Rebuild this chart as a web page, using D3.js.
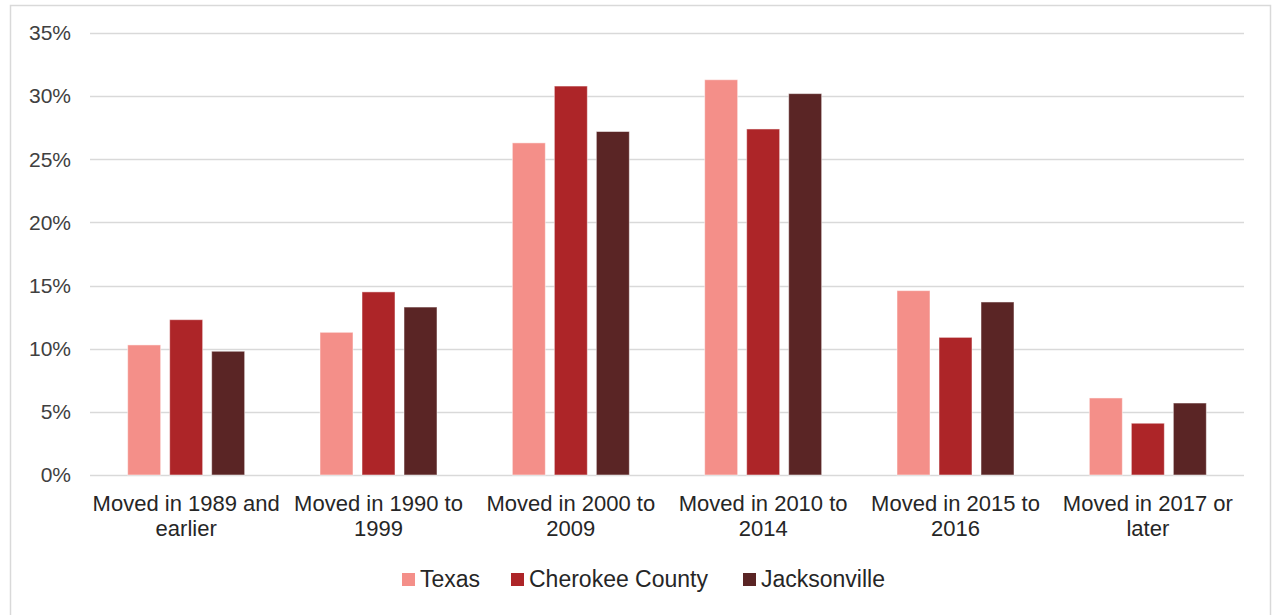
<!DOCTYPE html>
<html>
<head>
<meta charset="utf-8">
<script src="https://cdn.jsdelivr.net/npm/d3@7"></script>
<style>
  html, body { margin: 0; padding: 0; background: #fff; }
  svg { display: block; font-family: "Liberation Sans", Arial, sans-serif; }
</style>
</head>
<body>
<svg id="chart" width="1274" height="615"></svg>
<script>
// Year the householder moved into the unit, share of occupied units
const categories = [
  ["Moved in 1989 and", "earlier"],
  ["Moved in 1990 to", "1999"],
  ["Moved in 2000 to", "2009"],
  ["Moved in 2010 to", "2014"],
  ["Moved in 2015 to", "2016"],
  ["Moved in 2017 or", "later"]
];
const seriesNames = ["Texas", "Cherokee County", "Jacksonville"];
const texas        = [10.3, 11.3, 26.3, 31.3, 14.6, 6.1];
const cherokee     = [12.3, 14.5, 30.8, 27.4, 10.9, 4.1];
const jacksonville = [9.8, 13.3, 27.2, 30.2, 13.7, 5.7];
const yTicks = [0, 5, 10, 15, 20, 25, 30, 35];

const seriesValues = [texas, cherokee, jacksonville];
const colors = ["#F48F89", "#AD2528", "#5A2525"];

const svg = d3.select("#chart");

// outer frame (top, left, right)
svg.append("path")
  .attr("d", "M10.5,615 V5.5 H1270.5 V615")
  .attr("fill", "none")
  .attr("stroke", "#d9d9d9")
  .attr("stroke-width", 1.5);

const plotLeft = 90, plotRight = 1244, plotTop = 33, plotBottom = 475;

const x = d3.scaleBand()
  .domain(d3.range(categories.length))
  .range([plotLeft, plotRight]);

const y = d3.scaleLinear().domain([0, 35]).range([plotBottom, plotTop]);

// gridlines
svg.append("g")
  .selectAll("line")
  .data(yTicks)
  .join("line")
  .attr("x1", plotLeft).attr("x2", plotRight)
  .attr("y1", d => Math.round(y(d)) + 0.5)
  .attr("y2", d => Math.round(y(d)) + 0.5)
  .attr("stroke", "#d9d9d9")
  .attr("stroke-width", 1.5);

// y axis labels
const yAxis = d3.axisLeft(y)
  .tickValues(yTicks)
  .tickFormat(d => d + "%")
  .tickSize(0)
  .tickPadding(0);
const yg = svg.append("g")
  .attr("transform", `translate(${plotLeft - 19},0)`)
  .call(yAxis);
yg.select(".domain").remove();
yg.selectAll("text")
  .attr("font-size", 21)
  .attr("fill", "#404040")
  .attr("font-family", "'Liberation Sans', Arial, sans-serif");

// bars
const barW = 33, barGap = 9;
const groupW = 3 * barW + 2 * barGap;
const inner = d3.scaleBand()
  .domain(d3.range(seriesNames.length))
  .range([0, groupW])
  .paddingInner(barGap / (barW + barGap));

const groups = svg.append("g")
  .selectAll("g")
  .data(categories.map((c, i) => i))
  .join("g")
  .attr("transform", i => `translate(${x(i) + x.bandwidth() / 2 - groupW / 2},0)`);

groups.selectAll("rect")
  .data(i => seriesValues.map((vals, s) => ({ s, v: vals[i] })))
  .join("rect")
  .attr("x", d => inner(d.s))
  .attr("width", inner.bandwidth())
  .attr("y", d => y(d.v))
  .attr("height", d => y(0) - y(d.v))
  .attr("fill", d => colors[d.s])
  .attr("stroke", "rgba(255,255,255,0.5)")
  .attr("stroke-width", 1);

// category labels
const xl = svg.append("g")
  .selectAll("text")
  .data(categories)
  .join("text")
  .attr("x", (d, i) => x(i) + x.bandwidth() / 2)
  .attr("y", 511)
  .attr("text-anchor", "middle")
  .attr("font-size", 22)
  .attr("fill", "#262626");
xl.selectAll("tspan")
  .data(d => d)
  .join("tspan")
  .attr("x", function () { return this.parentNode.getAttribute("x"); })
  .attr("dy", (d, i) => i === 0 ? 0 : 25)
  .text(d => d);

// legend
const legendX = [402, 511, 743];
const legend = svg.append("g")
  .selectAll("g")
  .data(seriesNames)
  .join("g")
  .attr("transform", (d, i) => `translate(${legendX[i]},573)`);
legend.append("rect")
  .attr("width", 13).attr("height", 13)
  .attr("fill", (d, i) => colors[i]);
legend.append("text")
  .attr("x", 18).attr("y", 14)
  .attr("font-size", 23)
  .attr("fill", "#262626")
  .text(d => d);
</script>
</body>
</html>
